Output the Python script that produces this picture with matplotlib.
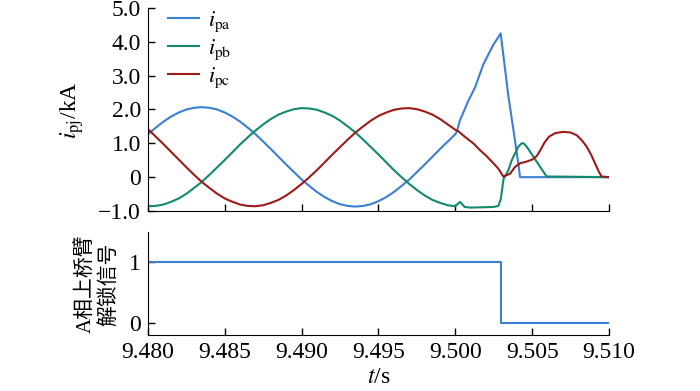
import numpy as np
import matplotlib
matplotlib.use("Agg")
import matplotlib.pyplot as plt

plt.rcParams['font.family'] = ['Liberation Serif', 'Noto Sans CJK SC']
plt.rcParams['mathtext.fontset'] = 'stix'

# pre-fault samples, every 0.5 ms from 9.480 s to 9.500 s
t_pre = [9.4800 + 0.0005 * k for k in range(41)]
ipa_pre = [1.27, 1.46, 1.64, 1.79, 1.91, 2.00, 2.05, 2.07, 2.05, 2.00,
           1.91, 1.79, 1.64, 1.46, 1.27, 1.05, 0.83, 0.60, 0.37, 0.15,
           -0.07, -0.26, -0.44, -0.59, -0.71, -0.80, -0.85, -0.87, -0.85, -0.80,
           -0.71, -0.59, -0.44, -0.26, -0.07, 0.15, 0.37, 0.60, 0.83, 1.05,
           1.27]
ipb_pre = [-0.86, -0.85, -0.81, -0.73, -0.63, -0.49, -0.32, -0.14, 0.07, 0.29,
           0.51, 0.74, 0.97, 1.18, 1.38, 1.56, 1.72, 1.85, 1.94, 2.01,
           2.04, 2.03, 1.99, 1.91, 1.81, 1.67, 1.50, 1.32, 1.11, 0.89,
           0.67, 0.44, 0.21, 0.00, -0.20, -0.38, -0.54, -0.67, -0.76, -0.83,
           -0.86]
ipc_pre = [1.42, 1.20, 0.98, 0.75, 0.52, 0.29, 0.07, -0.14, -0.32, -0.49,
           -0.63, -0.73, -0.81, -0.85, -0.86, -0.83, -0.76, -0.67, -0.54, -0.38,
           -0.20, 0.00, 0.21, 0.44, 0.67, 0.89, 1.11, 1.32, 1.50, 1.67,
           1.81, 1.91, 1.99, 2.03, 2.04, 2.01, 1.94, 1.85, 1.72, 1.56,
           1.40]

# post-fault samples (irregular times)
t_pa_post = [9.50009, 9.50030, 9.50085, 9.50128, 9.50182, 9.50247, 9.50295,
             9.50345, 9.50378, 9.50410, 9.50421, 9.51000]
ipa_post = [1.34, 1.68, 2.26, 2.65, 3.33, 3.91, 4.25,
            2.40, 1.40, 0.40, 0.00, 0.00]

t_pb_post = [9.50030, 9.50060, 9.50095, 9.50180, 9.50250, 9.50280, 9.50295,
             9.50305, 9.50314, 9.50345, 9.50367, 9.50388, 9.50410, 9.50432,
             9.50445, 9.50468, 9.50507, 9.50551, 9.50594, 9.51000]
ipb_post = [-0.73, -0.88, -0.90, -0.89, -0.88, -0.85, -0.66,
            -0.35, -0.05, 0.20, 0.50, 0.70, 0.90, 1.00,
            1.00, 0.88, 0.61, 0.31, 0.02, 0.00]

t_pc_post = [9.50019, 9.50060, 9.50117, 9.50160, 9.50204, 9.50250, 9.50280,
             9.50312, 9.50356, 9.50388, 9.50421, 9.50464, 9.50500, 9.50529,
             9.50551, 9.50580, 9.50610, 9.50650, 9.50700, 9.50750, 9.50790,
             9.50825, 9.50855, 9.50885, 9.50909, 9.50935, 9.50952, 9.51000]
ipc_post = [1.36, 1.20, 1.00, 0.80, 0.62, 0.40, 0.25,
            0.02, 0.10, 0.30, 0.41, 0.46, 0.52, 0.62,
            0.78, 1.02, 1.20, 1.30, 1.34, 1.32, 1.24,
            1.08, 0.90, 0.65, 0.41, 0.15, 0.02, 0.00]

# A-phase upper arm unblocking signal
t_sig = [9.480, 9.50295, 9.50295, 9.510]
sig = [1, 1, 0, 0]

xticks = [9.480, 9.485, 9.490, 9.495, 9.500, 9.505, 9.510]
xticklabels = ["9.480", "9.485", "9.490", "9.495", "9.500", "9.505", "9.510"]
yticks_top = [-1, 0, 1, 2, 3, 4, 5]
yticklabels_top = ["\u22121.0", "0", "1.0", "2.0", "3.0", "4.0", "5.0"]

c_a = "#3b7fd4"
c_b = "#138a6c"
c_c = "#9e1a1a"
fs = 17

fig = plt.figure(figsize=(7, 3.91), dpi=100)
ax1 = fig.add_axes([0.2114, 0.4604, 0.6586, 0.5191])
ax2 = fig.add_axes([0.2114, 0.1432, 0.6586, 0.2634])

ax1.plot(t_pre + t_pa_post, ipa_pre + ipa_post, color=c_a, lw=1.5, label=r"$i_{\mathrm{pa}}$")
ax1.plot(t_pre + t_pb_post, ipb_pre + ipb_post, color=c_b, lw=1.5, label=r"$i_{\mathrm{pb}}$")
ax1.plot(t_pre + t_pc_post, ipc_pre + ipc_post, color=c_c, lw=1.5, label=r"$i_{\mathrm{pc}}$")

ax2.plot(t_sig, sig, color=c_a, lw=1.5)

for ax in (ax1, ax2):
    ax.spines['top'].set_visible(False)
    ax.spines['right'].set_visible(False)
    ax.set_xlim(9.480, 9.510)
    ax.set_xticks(xticks)
    ax.tick_params(direction='in', length=5, width=1, labelsize=fs, pad=5)

ax1.set_ylim(-1, 5)
ax1.set_yticks(yticks_top)
ax1.set_yticklabels(yticklabels_top)
ax1.tick_params(axis='x', labelbottom=False)

ax2.set_ylim(-0.2, 1.5)
ax2.set_yticks([0, 1])
ax2.set_yticklabels(["0", "1"])
ax2.set_xticklabels(xticklabels)
ax2.set_xlabel(r"$t$/s", fontsize=fs, labelpad=3)

fig.text(72 / 700, 1 - 110 / 391, r"$i_{\mathrm{pj}}$/kA", rotation=90,
         ha='center', va='center', fontsize=fs)
fig.text(98 / 700, 1 - 284 / 391, "A相上桥臂\n解锁信号", rotation=90,
         ha='center', va='center', fontsize=15, linespacing=1.2,
         multialignment='center')

ax1.legend(loc='upper left', bbox_to_anchor=(0.0, 1.09), frameon=False,
           fontsize=16, handlelength=1.4, labelspacing=0.15, handletextpad=0.4)

fig.savefig("out.png", dpi=100)
